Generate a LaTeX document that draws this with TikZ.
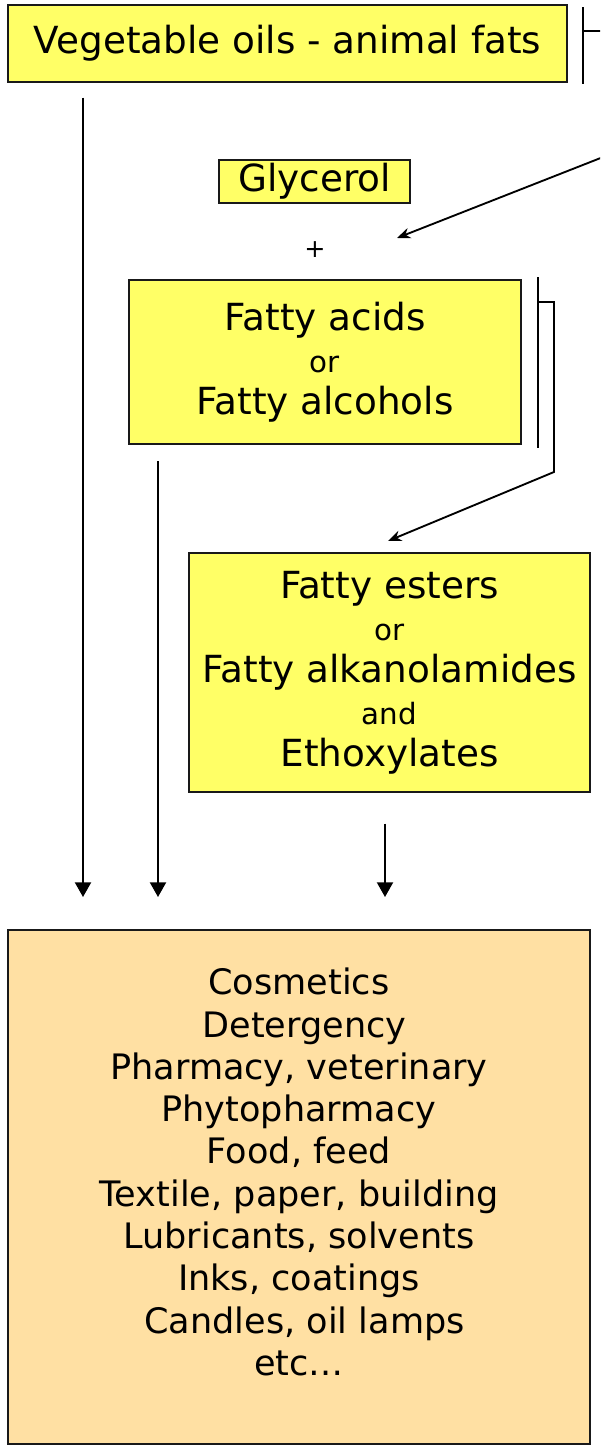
\documentclass[tikz,border=0pt]{standalone}
\usepackage{fontspec}
\setmainfont{DejaVu Sans}
\usetikzlibrary{arrows.meta,calc}

\definecolor{boxyellow}{HTML}{FFFF66}
\definecolor{boxorange}{HTML}{FFE0A3}

\tikzset{
  box/.style={draw=black!90, line width=1.5pt, fill=boxyellow, inner sep=0pt, align=center},
  usebox/.style={box, fill=boxorange},
  big/.style={font=\fontsize{28}{31.5}\selectfont},
  down/.style={line width=1.5pt, -{Triangle[length=11pt,width=12pt]}},
  link/.style={line width=1.4pt},
  slant/.style={link, -{Stealth[length=10pt,width=8pt]}},
}

\newcommand{\smallword}[1]{{\fontsize{22}{31.5}\selectfont #1}}

\begin{document}
\begin{tikzpicture}[x=0.75pt,y=-0.75pt]
\useasboundingbox (0,0) rectangle (600,1449);
\clip (0,0) rectangle (600,1449);

% boxes
\node[box, big, minimum width=559*0.75pt, minimum height=77*0.75pt] (veg) at (287.5,43.5) {Vegetable oils - animal fats};
\node[box, big, minimum width=191*0.75pt, minimum height=43*0.75pt] (glyc) at (314.5,181.5) {Glycerol};
\node[font=\fontsize{19}{22}\selectfont] (plus) at (315,250) {+};
\node[box, big, minimum width=392*0.75pt, minimum height=164*0.75pt] (acids) at (325,362)
  {Fatty acids\\\smallword{or}\\Fatty alcohols};
\node[box, big, minimum width=401*0.75pt, minimum height=239*0.75pt] (esters) at (389.5,672.5)
  {Fatty esters\\\smallword{or}\\Fatty alkanolamides\\\smallword{and}\\Ethoxylates};
\node[usebox, minimum width=582*0.75pt, minimum height=514*0.75pt] (uses) at (299,1187) {};
\node[align=center, font=\fontsize{26.3}{31.7}\selectfont] (usestext) at (299,1172)
  {Cosmetics\\\ Detergency\\Pharmacy, veterinary\\Phytopharmacy\\Food, feed\\Textile, paper, building\\Lubricants, solvents\\Inks, coatings\\\ Candles, oil lamps\\etc\dots};

% down arrows
\coordinate (d1) at (83,0);
\coordinate (d2) at (158,0);
\coordinate (d3) at (385,0);
\draw[down, shorten <=11pt, shorten >=24pt] (veg.south -| d1) -- (uses.north -| d1);
\draw[down, shorten <=12pt, shorten >=24pt] (acids.south -| d2) -- (uses.north -| d2);
\draw[down, shorten <=23pt, shorten >=24pt] (esters.south -| d3) -- (uses.north -| d3);

% brackets and slanted arrows
\coordinate (tipA) at (397,238);
\coordinate (tipB) at (388,541);
\draw[link] ($(veg.north east)+(15,3)$) -- ($(veg.south east)+(15,1)$);
\draw[slant] ($(veg.north east)+(15,27)$) -- ++(38,0) -- ++(0,119) -- (tipA);
\draw[link] ($(acids.north east)+(16,-2)$) -- ($(acids.south east)+(16,3)$);
\draw[slant] ($(acids.north east)+(16,23)$) -- ++(16,0) -- ++(0,170) -- (tipB);

\end{tikzpicture}
\end{document}
